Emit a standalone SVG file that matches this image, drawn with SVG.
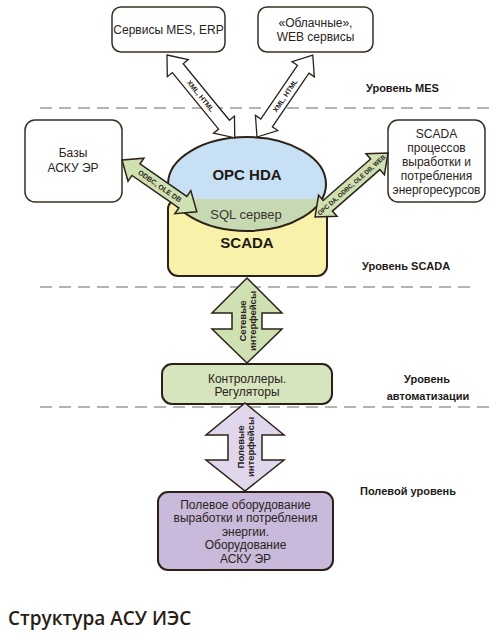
<svg xmlns="http://www.w3.org/2000/svg" width="500" height="640" viewBox="0 0 500 640">
<style>
.box{fill:#fff;stroke:#3a2e22;stroke-width:1.5}
.t{font-family:"Liberation Sans",Arial,sans-serif;font-size:12px;fill:#2a2320;text-anchor:middle}
.lvl{font-family:"Liberation Sans",Arial,sans-serif;font-size:11px;font-weight:bold;fill:#1e1a17}
.al{font-family:"Liberation Sans",Arial,sans-serif;font-size:7px;font-weight:bold;fill:#2a2320;text-anchor:middle}
.vl{font-family:"Liberation Sans",Arial,sans-serif;font-size:9.5px;font-weight:bold;fill:#2a2320;text-anchor:middle}
.dash{stroke:#9a9a9a;stroke-width:1.5;stroke-dasharray:12 7;fill:none}
.wa{fill:#fff;stroke:#2b2118;stroke-width:1.3;stroke-linejoin:miter}
.ga{fill:#cfe0b2;stroke:#2b2118;stroke-width:1.5}
</style>
<defs>
<clipPath id="boxclip"><rect x="168" y="199" width="159" height="77" rx="10"/></clipPath>
</defs>

<g id="dividers">
<line class="dash" x1="40" y1="108" x2="492" y2="108"/>
<line class="dash" x1="40" y1="287" x2="472" y2="287"/>
<line class="dash" x1="40" y1="407" x2="492" y2="407"/>
</g>

<g id="level-labels">
<text class="lvl" x="366" y="92">Уровень MES</text>
<text class="lvl" x="362" y="270">Уровень SCADA</text>
<text class="lvl" x="427" y="383" text-anchor="middle">Уровень</text>
<text class="lvl" x="428" y="400" text-anchor="middle">автоматизации</text>
<text class="lvl" x="360" y="495">Полевой уровень</text>
</g>

<g id="mes-erp">
<rect class="box" x="112" y="7" width="113" height="45" rx="9"/>
<text class="t" x="168.5" y="34">Сервисы MES, ERP</text>
</g>

<g id="cloud">
<rect class="box" x="258" y="7" width="115" height="45" rx="9"/>
<text class="t" x="315.5" y="27">«Облачные»,</text>
<text class="t" x="315.5" y="41">WEB сервисы</text>
</g>

<g id="asku-db">
<rect class="box" x="25" y="120" width="97" height="82" rx="10"/>
<text class="t" x="73" y="157">Базы</text>
<text class="t" x="73" y="172">АСКУ ЭР</text>
</g>

<g id="scada-processes">
<rect class="box" x="388" y="120" width="97" height="82" rx="10"/>
<text class="t" x="436.5" y="138">SCADA</text>
<text class="t" x="436.5" y="152">процессов</text>
<text class="t" x="436.5" y="166">выработки и</text>
<text class="t" x="436.5" y="180">потребления</text>
<text class="t" x="436.5" y="194">энергоресурсов</text>
</g>

<g id="scada-core">
<rect x="168" y="199" width="159" height="77" rx="10" fill="#f8f1a9" stroke="#2b2118" stroke-width="2"/>
<ellipse cx="247" cy="184" rx="79" ry="47" fill="#c7e0f4"/>
<ellipse cx="247" cy="184" rx="79" ry="47" fill="#c6d9b2" clip-path="url(#boxclip)"/>
<ellipse cx="247" cy="184" rx="79" ry="47" fill="none" stroke="#2b2118" stroke-width="2"/>
<text class="t" x="247" y="180" style="font-size:15px;font-weight:bold;fill:#1e1a17">OPC HDA</text>
<text class="t" x="246" y="219" style="font-size:13px;fill:#3a3430">SQL сервер</text>
<text class="t" x="247" y="248" style="font-size:15px;font-weight:bold;fill:#1e1a17">SCADA</text>
</g>

<g id="controllers">
<rect x="162" y="364" width="170" height="40" rx="10" fill="#d7e5bf" stroke="#2b2118" stroke-width="2"/>
<text class="t" x="247" y="383">Контроллеры.</text>
<text class="t" x="247" y="396">Регуляторы</text>
</g>

<g id="field-equipment">
<rect x="158" y="492" width="175" height="78" rx="10" fill="#c9b9da" stroke="#2b2118" stroke-width="2"/>
<text class="t" x="245.5" y="509">Полевое оборудование</text>
<text class="t" x="245.5" y="522">выработки и потребления</text>
<text class="t" x="245.5" y="536">энергии.</text>
<text class="t" x="245.5" y="549">Оборудование</text>
<text class="t" x="245.5" y="563">АСКУ ЭР</text>
</g>

<g id="connectors">
<g transform="translate(167,55) rotate(50.7)">
<path class="wa" d="M0,0 L17,-13.5 L17,-7 L90,-7 L90,-13.5 L107,0 L90,13.5 L90,7 L17,7 L17,13.5 Z"/>
<text class="al" x="53" y="2.5">XML, HTML</text>
</g>
<g transform="translate(257,137) rotate(-55.7)">
<path class="wa" d="M0,0 L17,-13.5 L17,-7 L82,-7 L82,-13.5 L99,0 L82,13.5 L82,7 L17,7 L17,13.5 Z"/>
<text class="al" x="50" y="2.5">XML, HTML</text>
</g>
<g transform="translate(122,160) rotate(34.7)">
<path class="ga" d="M0,0 L17,-14 L17,-7 L74,-7 L74,-14 L91,0 L74,14 L74,7 L17,7 L17,14 Z"/>
<text class="al" x="46" y="2.5">ODBC, OLE DB</text>
</g>
<g transform="translate(315,217) rotate(-41.2)">
<path class="ga" d="M0,0 L17,-14 L17,-7 L80,-7 L80,-14 L97,0 L80,14 L80,7 L17,7 L17,14 Z"/>
<text class="al" x="48.5" y="2.3" style="font-size:6.5px" textLength="88" lengthAdjust="spacingAndGlyphs">OPC DA, ODBC, OLE DB, WEB</text>
</g>
<path class="ga" d="M247,278 L282,313 L262,313 L262,329 L282,329 L247,363 L212,329 L232,329 L232,313 L212,313 Z"/>
<text class="vl" transform="translate(247,321) rotate(-90)"><tspan x="0" y="-1.5">Сетевые</tspan><tspan x="0" y="9">интерфейсы</tspan></text>
<path d="M245,403 L284,435 L262,435 L262,460 L284,460 L245,491 L206,460 L228,460 L228,435 L206,435 Z" fill="#e0d7ec" stroke="#2b2118" stroke-width="1.5"/>
<text class="vl" transform="translate(245,447) rotate(-90)"><tspan x="0" y="-1.5">Полевые</tspan><tspan x="0" y="9">интерфейсы</tspan></text>
</g>

<text id="title" x="8" y="625" style="font-family:'Open Sans','Noto Sans',sans-serif;font-size:19px;font-weight:600;fill:#2a1d14">Структура АСУ ИЭС</text>
</svg>
